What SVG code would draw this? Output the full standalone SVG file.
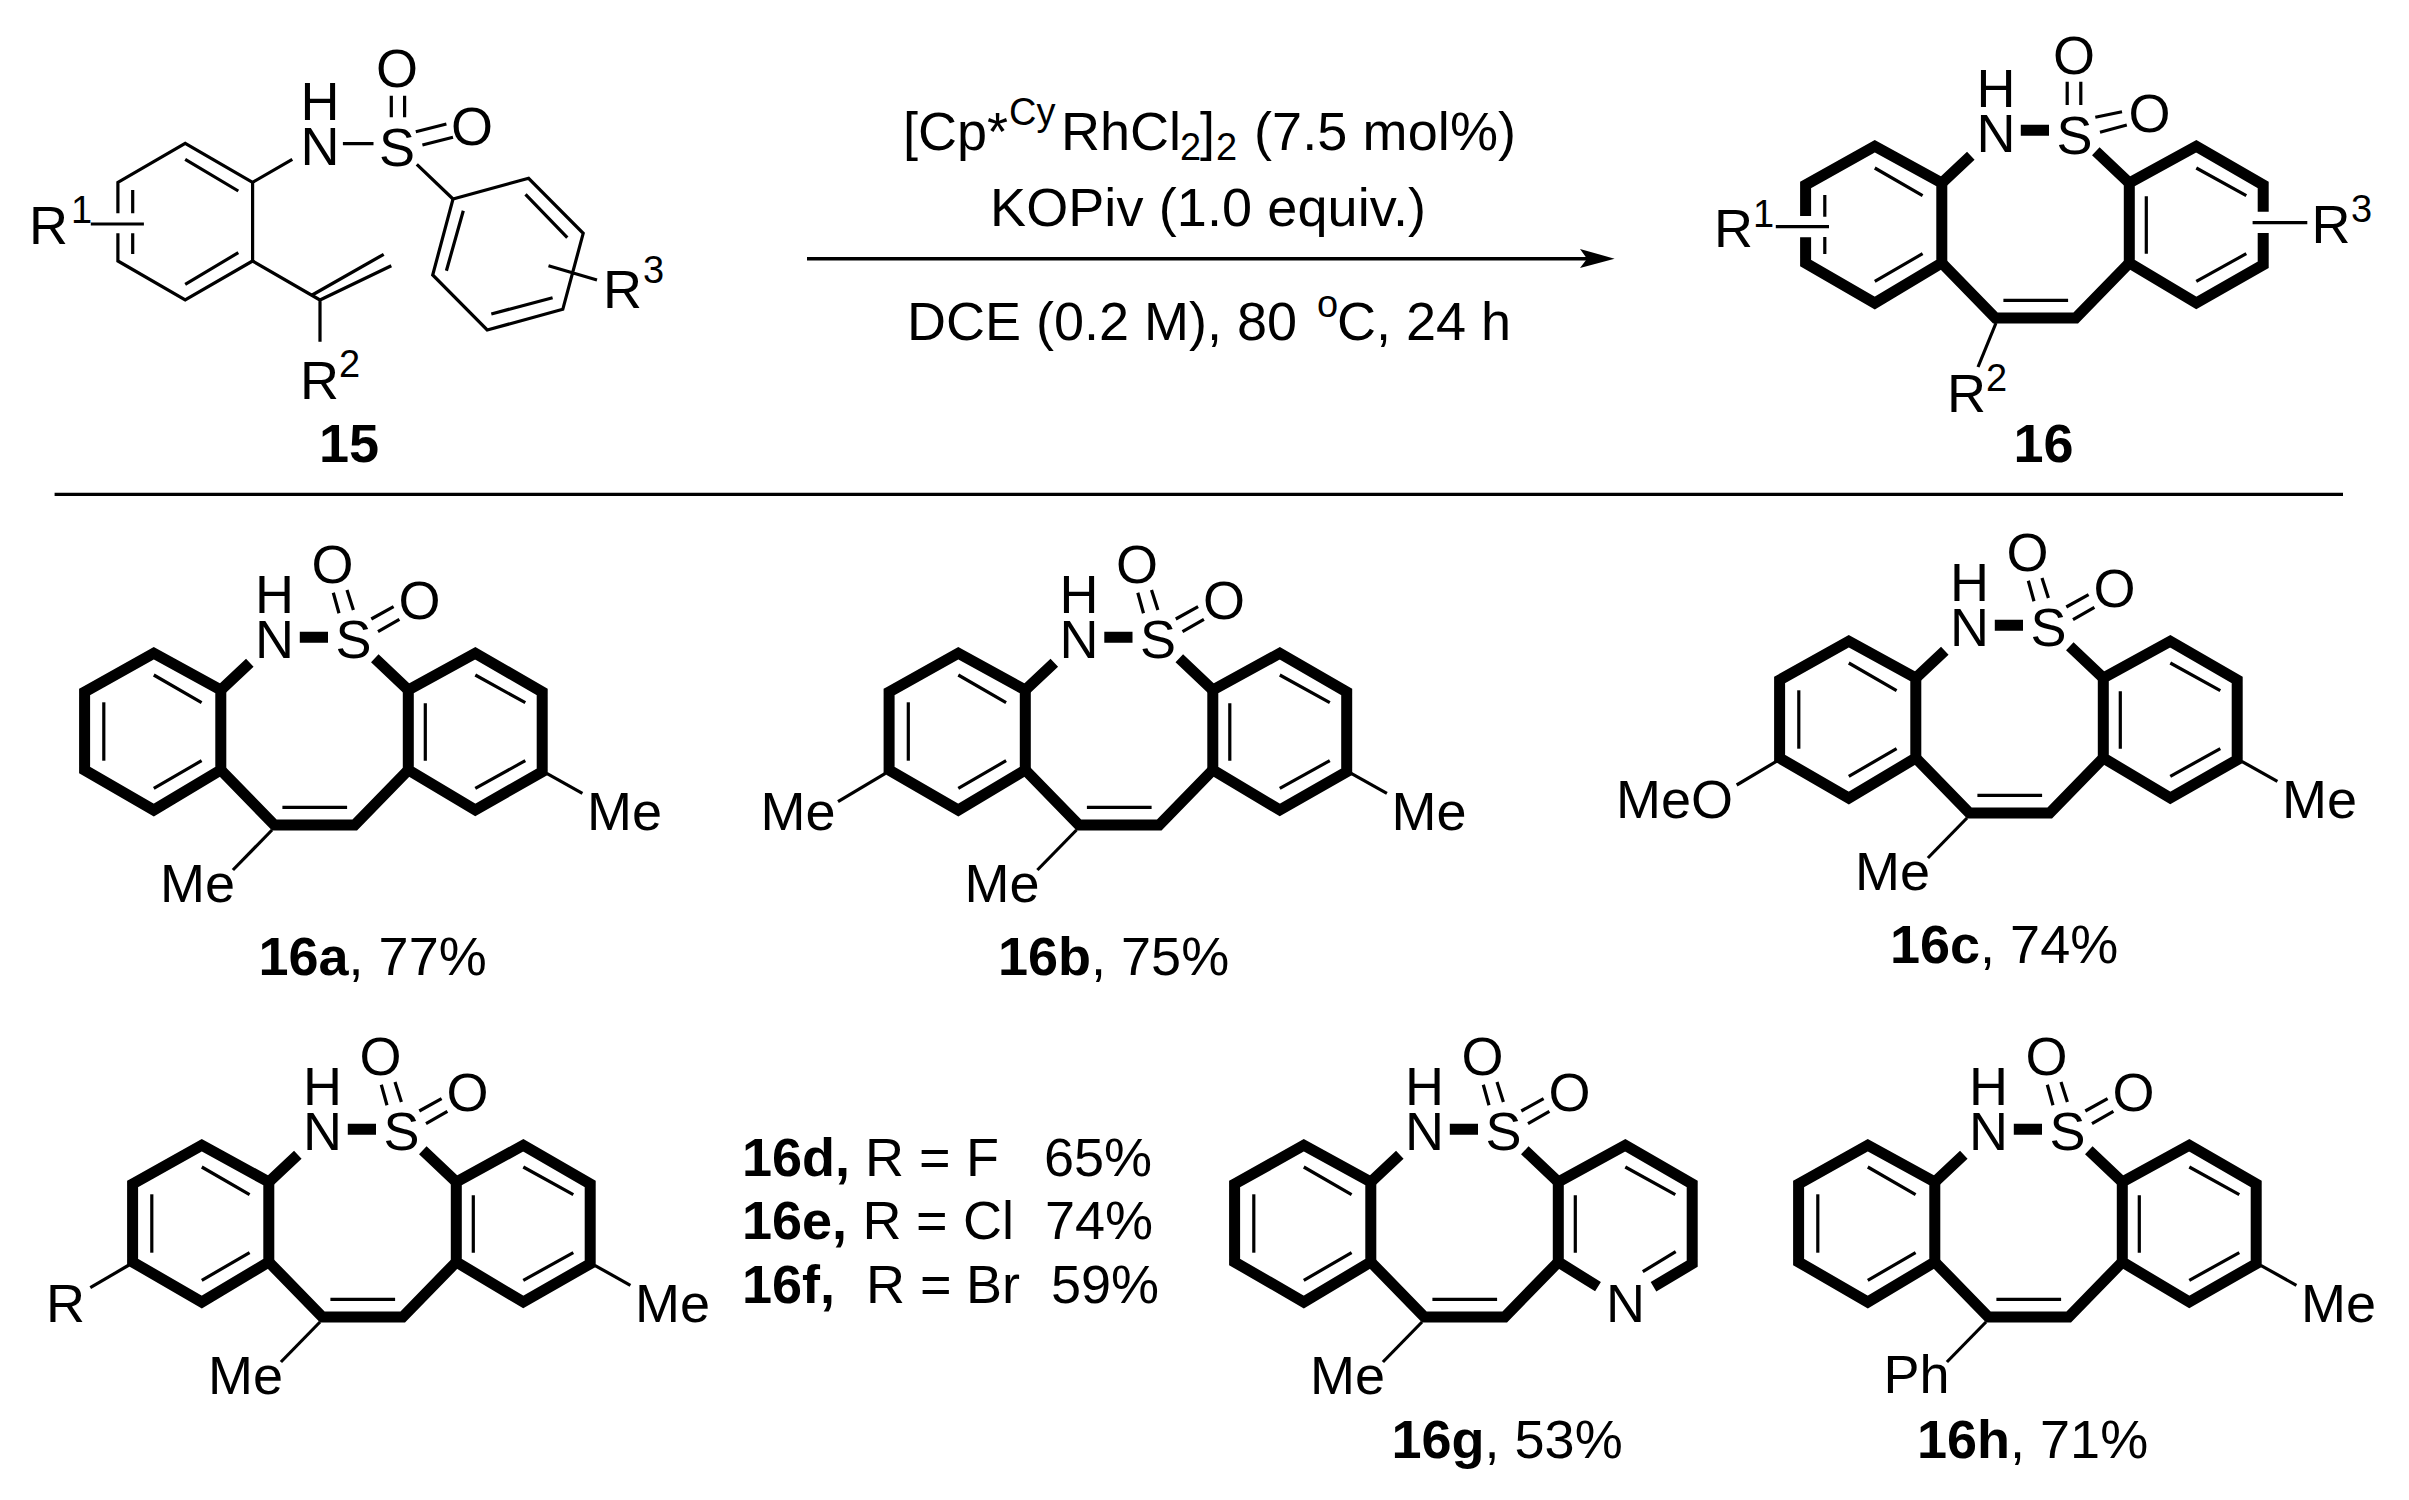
<svg xmlns="http://www.w3.org/2000/svg" width="2409" height="1500" viewBox="0 0 2409 1500">
<style>
text{font-family:"Liberation Sans",Arial,sans-serif;font-size:54px;fill:#000}
.m{text-anchor:middle}
.sup{font-size:38px}
.bd{font-weight:bold}
.k{fill:none;stroke:#000;stroke-width:11;stroke-linejoin:miter;stroke-miterlimit:4}
.l{fill:none;stroke:#000;stroke-width:3.2;stroke-linecap:butt}
.bg{fill:#fff}
</style>
<defs>
<path id="ringL" class="k" d="M84.6,692L153.8,653.3L220.8,690V770L153.8,810L84.6,770Z"/>
<path id="ringR" class="k" d="M408.3,690L475.3,653.3L542.2,692V771.7L475.3,810L408.3,770Z"/>
<path id="innerLv" class="l" d="M103.8,702.3V760.7"/>
<path id="innerRlow" class="l" d="M525.3,760.7L475.3,788.3"/>
<g id="central">
<path class="k" d="M220.8,770L274.4,825H354.7L408.3,770"/>
<path class="k" d="M220.8,690L249.8,662.7M408.3,690L374.8,658.3M299.8,637.3H328"/>
<path class="l" d="M282.4,807.3H347.1M153.8,675L201.6,702.7M201.6,760.7L153.8,788.3M425.3,703.3V760.7M475.3,675L525.3,702.7"/>
</g>
<path id="so2" class="l" d="M333.3,592.7L339,613.3M347,590L353.4,610M371.3,619L393.6,606.7M378,631.7L399.4,619.3"/>
<path id="meR" class="l" d="M546.7,773.3L582.4,793.3"/>
<path id="subLow" class="l" d="M272,830L232.9,870"/>
</defs>
<rect class="bg" width="2409" height="1500"/>

<g id="connectors">
<path d="M807,258.7H1590" fill="none" stroke="#000" stroke-width="3.5"/>
<path d="M1614.6,258.7L1580,249L1587,258.7L1580,268Z" fill="#000"/>
<path d="M54.6,494.3H2343" fill="none" stroke="#000" stroke-width="3.3"/>
</g>

<g id="compound-15">
<path class="l" d="M117.9,213.3V182.3L185.2,143.3L252.6,182.3V261L185.2,300L117.9,261V233.3M185.2,159.3L238.3,191M238.3,252.7L185.2,284.3M132.7,190V213.3M132.7,233.3V254M90.8,224H143.9M252.6,182.3L292.3,159.3M342.9,143.7H373.5M391.3,95.7V117.3M404.6,95.7V117.3M415.8,131.7L446.4,124M422.4,145L453,137.3M416.8,164.3L453,199"/>
<path class="l" d="M453,199L528.6,178.3L583.2,233.3L562.8,309.3L487.2,330L432.7,275ZM525.5,194.3L567.3,237.7M552.6,297.7L491.3,314M463.3,210.7L446.4,270.7M548.5,265.7L597,280"/>
<path class="l" d="M252.6,261L320,300V341.7M320,300L391.3,265.7M312.2,295L383.7,254.3"/>
<text class="m" x="320" y="120">H</text>
<text class="m" x="320" y="165">N</text>
<text class="m" x="397" y="165.7">S</text>
<text class="m" x="397" y="87.3">O</text>
<text class="m" x="472" y="145">O</text>
<text x="29" y="244.3">R</text><text class="sup" x="71" y="222.7">1</text>
<text x="603" y="308.3">R</text><text class="sup" x="643" y="283.3">3</text>
<text x="300" y="399">R</text><text class="sup" x="339" y="377.3">2</text>
<text class="m bd" x="349" y="461.7">15</text>
</g>

<g id="conditions">
<text x="903" y="150">[Cp*</text>
<text class="sup" x="1009" y="125">Cy</text>
<text x="1061" y="150">RhCl</text>
<text class="sup" x="1180" y="160">2</text>
<text x="1200" y="150">]</text>
<text class="sup" x="1216" y="160">2</text>
<text x="1254" y="150" textLength="262">(7.5 mol%)</text>
<text x="990" y="226" textLength="436">KOPiv (1.0 equiv.)</text>
<text x="907" y="340">DCE (0.2 M), 80</text>
<text class="sup" x="1317" y="316.7">o</text>
<text x="1337" y="340">C, 24 h</text>
</g>

<g id="compound-16">
<g transform="translate(1721,-507)">
<use href="#central"/>
<path class="k" d="M84.6,723V692L153.8,653.3L220.8,690V770L153.8,810L84.6,770V744.3"/>
<path class="k" d="M542.2,740V771.7L475.3,810L408.3,770V690L475.3,653.3L542.2,692V718.7"/>
<use href="#innerRlow"/>
<path class="l" d="M103.8,702V723.7M103.8,744V761"/>
</g>
<path class="l" d="M2067.2,81.7V105M2080.8,81.7V105M2095.3,117.3L2122,111.7M2100,132.3L2126.8,125M1996,323L1978,367M1775.8,226.7H1829M2252.6,222.7H2307.3"/>
<text class="m" x="1996" y="107.3">H</text>
<text class="m" x="1996" y="152.3">N</text>
<text class="m" x="2074.5" y="154">S</text>
<text class="m" x="2074" y="74">O</text>
<text class="m" x="2149.5" y="131.7">O</text>
<text x="1714" y="247">R</text><text class="sup" x="1753" y="226.7">1</text>
<text x="2311.5" y="243.3">R</text><text class="sup" x="2351" y="221.7">3</text>
<text x="1947" y="411.7">R</text><text class="sup" x="1986" y="390.7">2</text>
<text class="m bd" x="2043.5" y="461.7">16</text>
</g>

<g id="compound-16a">
<use href="#ringL"/><use href="#ringR"/><use href="#central"/><use href="#innerLv"/><use href="#innerRlow"/><use href="#so2"/><use href="#meR"/><use href="#subLow"/>
<text class="m" x="274.4" y="613.3">H</text><text class="m" x="274.4" y="658.3">N</text><text class="m" x="353.4" y="658.3">S</text><text class="m" x="332.4" y="582.7">O</text><text class="m" x="419.5" y="619.3">O</text>
<text x="587" y="830">Me</text><text x="160" y="902.3">Me</text>
<text x="258.5" y="975"><tspan class="bd">16a</tspan>, 77%</text>
</g>

<g id="compound-16b" transform="translate(804.5,0)">
<use href="#ringL"/><use href="#ringR"/><use href="#central"/><use href="#innerLv"/><use href="#innerRlow"/><use href="#so2"/><use href="#meR"/><use href="#subLow"/>
<path class="l" d="M80.9,773.3L33.5,801.7"/>
<text class="m" x="274.4" y="613.3">H</text><text class="m" x="274.4" y="658.3">N</text><text class="m" x="353.4" y="658.3">S</text><text class="m" x="332.4" y="582.7">O</text><text class="m" x="419.5" y="619.3">O</text>
<text x="587" y="830">Me</text><text x="160" y="902.3">Me</text><text x="-44" y="830">Me</text>
<text x="193.5" y="975"><tspan class="bd">16b</tspan>, 75%</text>
</g>

<g id="compound-16c" transform="translate(1695,-12)">
<use href="#ringL"/><use href="#ringR"/><use href="#central"/><use href="#innerLv"/><use href="#innerRlow"/><use href="#so2"/><use href="#meR"/><use href="#subLow"/>
<path class="l" d="M82.6,772.7L41.7,797"/>
<text class="m" x="274.4" y="613.3">H</text><text class="m" x="274.4" y="658.3">N</text><text class="m" x="353.4" y="658.3">S</text><text class="m" x="332.4" y="582.7">O</text><text class="m" x="419.5" y="619.3">O</text>
<text x="587" y="830">Me</text><text x="160" y="902.3">Me</text><text x="-79" y="829.7">MeO</text>
<text x="195" y="975.3"><tspan class="bd">16c</tspan>, 74%</text>
</g>

<g id="compound-16d-f" transform="translate(48,492)">
<use href="#ringL"/><use href="#ringR"/><use href="#central"/><use href="#innerLv"/><use href="#innerRlow"/><use href="#so2"/><use href="#meR"/><use href="#subLow"/>
<path class="l" d="M81,773L42.3,795.7"/>
<text class="m" x="274.4" y="613.3">H</text><text class="m" x="274.4" y="658.3">N</text><text class="m" x="353.4" y="658.3">S</text><text class="m" x="332.4" y="582.7">O</text><text class="m" x="419.5" y="619.3">O</text>
<text x="587" y="830">Me</text><text x="160" y="902.3">Me</text><text x="-2" y="829.7">R</text>
</g>

<g id="table-16d-f">
<text class="bd" x="742" y="1176">16d,</text><text x="865" y="1176">R</text><text x="919" y="1176">=</text><text x="966" y="1176">F</text><text x="1044" y="1176">65%</text>
<text class="bd" x="742" y="1239.3">16e,</text><text x="862.5" y="1239.3">R</text><text x="916" y="1239.3">=</text><text x="963" y="1239.3">Cl</text><text x="1045" y="1239.3">74%</text>
<text class="bd" x="742" y="1303.3">16f,</text><text x="866" y="1303.3">R</text><text x="920" y="1303.3">=</text><text x="966" y="1303.3">Br</text><text x="1051" y="1303.3">59%</text>
</g>

<g id="compound-16g" transform="translate(1150,492)">
<use href="#ringL"/><use href="#central"/><use href="#innerLv"/><use href="#so2"/><use href="#subLow"/>
<path class="k" d="M448,794.7L408.3,770V690L475.3,653.3L542.2,692V771.7L503.5,794.7"/>
<path class="l" d="M525.7,759.7L492.8,779.7"/>
<text class="m" x="274.4" y="613.3">H</text><text class="m" x="274.4" y="658.3">N</text><text class="m" x="353.4" y="658.3">S</text><text class="m" x="332.4" y="582.7">O</text><text class="m" x="419.5" y="619.3">O</text>
<text class="m" x="475.6" y="829.7">N</text>
<text x="160" y="902.3">Me</text>
<text x="241.5" y="966.3"><tspan class="bd">16g</tspan>, 53%</text>
</g>

<g id="compound-16h" transform="translate(1714,492)">
<use href="#ringL"/><use href="#ringR"/><use href="#central"/><use href="#innerLv"/><use href="#innerRlow"/><use href="#so2"/><use href="#meR"/><use href="#subLow"/>
<text class="m" x="274.4" y="613.3">H</text><text class="m" x="274.4" y="658.3">N</text><text class="m" x="353.4" y="658.3">S</text><text class="m" x="332.4" y="582.7">O</text><text class="m" x="419.5" y="619.3">O</text>
<text x="587" y="830">Me</text><text x="169.5" y="901.3">Ph</text>
<text x="203" y="966.3"><tspan class="bd">16h</tspan>, 71%</text>
</g>
</svg>
